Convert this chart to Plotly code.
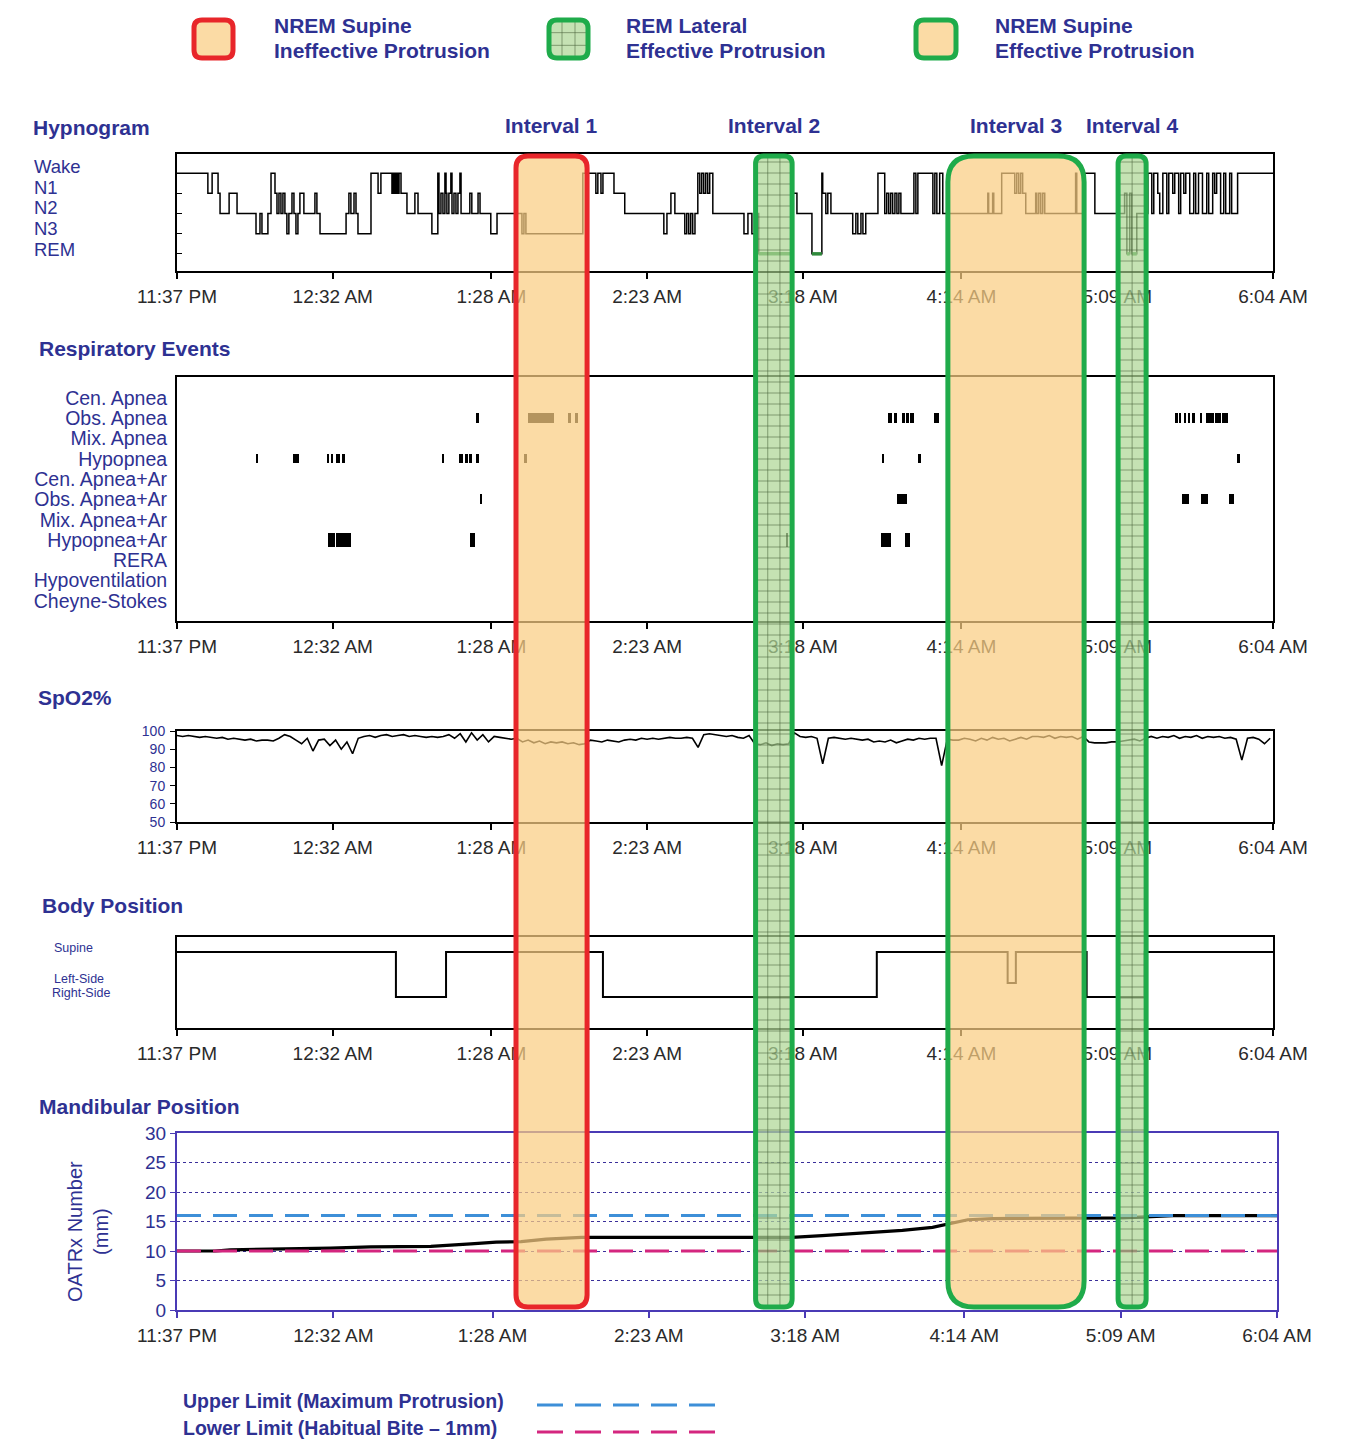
import numpy as np
import plotly.graph_objects as go

FIG_W, FIG_H = 1346, 1442

# ---------------- DATA ----------------
time_labels = ["11:37 PM", "12:32 AM", "1:28 AM", "2:23 AM", "3:18 AM", "4:14 AM", "5:09 AM", "6:04 AM"]

def label_to_minutes(lbl):
    hm, ap = lbl.split()
    h, m = map(int, hm.split(":"))
    h = h % 12 + (12 if ap == "PM" else 0)
    return (h * 60 + m - (23 * 60 + 37)) % (24 * 60)

tick_minutes = [label_to_minutes(l) for l in time_labels]
T_END = tick_minutes[-1]

# Hypnogram: stage-change times (minutes after 11:37 PM) and stages
hyp_t = [0.0, 10.9, 12.4, 14.5, 15.2, 18.4, 21.2, 27.9, 29.3, 30.0, 32.1, 33.2, 34.6, 35.3, 36.0, 36.7, 37.4, 38.1,
         38.8, 39.5, 40.6, 41.3, 42.0, 42.7, 43.4, 44.8, 48.7, 49.4, 50.5, 59.7, 60.7, 61.4, 62.5, 63.2, 63.9, 68.5,
         71.0, 72.0, 75.9, 76.2, 76.6, 77.0, 77.3, 77.7, 78.0, 78.4, 79.1, 81.2, 84.0, 85.1, 90.0, 92.1, 92.5, 93.2,
         93.9, 94.6, 95.0, 95.3, 96.0, 96.7, 97.1, 97.8, 98.5, 99.2, 99.9, 100.3, 103.4, 104.1, 106.3, 107.0, 110.8,
         113.0, 121.8, 122.5, 123.2, 143.3, 147.9, 148.6, 149.7, 150.4, 154.3, 158.1, 171.9, 173.0, 174.4, 175.8,
         179.3, 180.0, 180.7, 181.4, 182.1, 182.9, 183.9, 184.6, 185.3, 186.0, 186.7, 187.4, 188.1, 189.2, 200.2,
         201.6, 203.0, 204.7, 205.4, 217.1, 218.9, 224.2, 227.7, 228.0, 229.1, 229.8, 230.9, 238.6, 239.7, 240.4,
         241.5, 242.2, 243.2, 247.5, 249.9, 250.6, 251.3, 252.0, 252.7, 253.5, 254.2, 254.9, 255.6, 260.2, 260.9,
         261.6, 266.9, 267.6, 268.3, 269.3, 270.4, 286.3, 286.6, 288.0, 288.4, 291.2, 295.8, 296.5, 297.2, 297.9,
         298.6, 299.7, 303.2, 303.6, 304.3, 305.0, 305.7, 306.4, 317.3, 317.7, 320.2, 324.1, 334.6, 335.4, 336.4,
         337.1, 338.9, 342.8, 344.2, 344.9, 346.3, 347.0, 348.1, 349.5, 350.2, 351.6, 352.3, 353.7, 354.4, 355.5,
         356.2, 357.6, 359.0, 359.7, 360.7, 362.1, 363.6, 364.3, 365.7, 366.4, 367.1, 368.5, 369.6, 370.3, 371.7,
         372.4, 374.5]
hyp_s = ["W", "N1", "W", "N1", "N2", "N1", "N2", "N3", "N2", "N3", "N2", "W", "N1", "N2", "N1", "N2", "N1", "N2",
         "N3", "N2", "N1", "N2", "N3", "N2", "N1", "N2", "N1", "N2", "N3", "N2", "N1", "N2", "N1", "N2", "N3", "W",
         "N1", "W", "N1", "W", "N1", "W", "N1", "W", "N1", "W", "N1", "N2", "N1", "N2", "N3", "W", "N2", "N1",
         "N2", "W", "N1", "N2", "N1", "W", "N2", "N1", "N2", "N1", "W", "N2", "N1", "N2", "N1", "N2", "N3",
         "N2", "N3", "N2", "N3", "W", "N1", "W", "N1", "W", "N1", "N2", "N3", "N2", "N1", "N2",
         "N3", "N2", "N3", "N2", "N3", "N2", "W", "N1", "W", "N1", "W", "N1", "W", "N2", "N3",
         "N2", "N3", "N2", "R", "N1", "N2", "R", "W", "N1", "N2", "N1", "N2", "N3", "N2", "N3",
         "N2", "N3", "N2", "W", "N2", "N1", "N2", "N1", "N2", "N1", "N2", "N1", "N2", "W", "N2",
         "W", "N2", "W", "N2", "W", "N2", "N1", "N2", "N1", "N2", "W", "N1", "W", "N1", "W",
         "N1", "N2", "N1", "N2", "N1", "N2", "N1", "N2", "W", "N2", "W", "N2", "N1", "R", "N1",
         "R", "N2", "W", "N2", "W", "N1", "N2", "W", "N2", "W", "N1", "W", "N2", "W", "N1",
         "W", "N2", "W", "N2", "W", "N2", "W", "N2", "W", "N1", "W", "N2", "W", "N2", "W",
         "N2", "W"]

resp_rows = ["Cen. Apnea", "Obs. Apnea", "Mix. Apnea", "Hypopnea", "Cen. Apnea+Ar", "Obs. Apnea+Ar",
             "Mix. Apnea+Ar", "Hypopnea+Ar", "RERA", "Hypoventilation", "Cheyne-Stokes"]
ev_type = (["Obs. Apnea"] * 20 + ["Hypopnea"] * 15 + ["Obs. Apnea+Ar"] * 5 + ["Hypopnea+Ar"] * 6)
ev_start = [105.9, 123.9, 138.0, 140.5, 251.0, 253.5, 255.9, 257.3, 258.7, 267.6, 268.6, 352.6, 354.0, 355.8,
            357.2, 358.6, 361.3, 363.2, 366.4, 369.0,
            27.9, 40.9, 53.0, 54.4, 56.1, 58.2, 93.9, 99.5, 101.7, 103.4, 105.5, 122.8, 249.2, 261.6, 374.2,
            107.3, 254.2, 354.8, 361.5, 371.4,
            53.3, 56.1, 103.4, 215.3, 248.5, 257.0]
ev_dur = [0.6, 9.2, 1.0, 1.0, 1.4, 0.7, 1.0, 1.0, 1.4, 0.6, 0.6, 0.7, 0.6, 0.6,
          0.6, 0.7, 0.8, 2.8, 2.2, 2.0,
          0.7, 2.1, 0.8, 0.8, 1.4, 1.2, 0.5, 1.4, 1.0, 0.7, 1.0, 0.7, 0.5, 1.0, 1.0,
          0.5, 3.5, 2.5, 2.5, 1.8,
          2.5, 5.3, 1.8, 0.4, 3.5, 1.8]

# SpO2 sampled every 2 minutes
spo2 = [97.5, 97, 97.5, 97, 96.5, 97,
        96.5, 96, 96.5, 95.5, 96, 95.5, 95, 95.5, 94.5, 95,
        95, 94.5, 96, 98, 97,
        95, 93, 96, 89, 95,
        95.5, 92, 95, 90, 94, 87.5, 96, 97, 97.5, 96.5,
        97.5, 98, 97, 97.5, 98, 97, 97.5, 97, 96.5, 97,
        96.5, 97, 98, 96, 98.5,
        94, 99, 95, 98, 94, 97,
        96.5, 96, 95.5, 96,
        94, 95, 93.5, 94.5, 93, 94, 93.5, 94, 93, 93.5, 92.5, 93,
        95, 94.5, 94, 95, 94.5, 94, 95, 95.5,
        95, 96, 95.5, 96, 95.5, 96, 96.5, 96,
        96, 96.5, 96, 91,
        98, 98.5, 98, 97.5, 97, 97.5, 96.5, 96,
        97.5, 93, 92.5, 93.5, 92, 93, 92.5,
        93, 99, 97,
        96.5, 97, 96,
        82,
        96, 96.5, 96, 95.5, 96, 95.5, 95, 95.5, 94,
        94.5, 94, 95, 93.5, 94.5, 95.5, 95, 96, 95.5, 96,
        96, 81, 95.5, 95,
        95, 96, 95.5, 94.5, 96, 95, 96.5, 95.5, 96, 94.5, 95.5, 96.5, 95.5, 97,
        97, 96.5, 97.5, 96, 97, 96.5, 97, 95.5,
        97, 94,
        93.5, 93.5, 93.5, 94, 94, 94.5, 95, 95.5, 94.5, 96, 97,
        96, 97, 96.5, 97.5, 96, 97, 96.5, 97.5, 96, 97, 96.5, 97, 96,
        96.5, 95.5, 84, 96, 96.5, 95.5, 93, 96]
spo2_t = np.arange(len(spo2)) * 2.0

body_t = [0.0, 77.3, 95.0, 150.4, 247.1, 293.3, 296.2, 321.2, 341.7]
body_pos = ["Supine", "Right-Side", "Supine", "Right-Side", "Supine", "Left-Side", "Supine", "Right-Side", "Supine"]

mand_t = [0.0, 13.4, 18.7, 39.9, 54.0, 68.1, 89.3, 103.4, 112.3, 121.1, 129.9, 142.3, 184.6, 216.4, 227.0,
          241.1, 255.2, 265.8, 271.1, 278.2, 287.0, 318.7, 332.9, 350.5, 387.0]
mand_mm = [10.0, 10.0, 10.2, 10.3, 10.5, 10.7, 10.8, 11.2, 11.5, 11.6, 12.0, 12.3, 12.3, 12.3, 12.6,
           13.0, 13.5, 14.0, 14.6, 15.3, 15.5, 15.5, 15.6, 16.0, 16.0]
upper_limit = 16.0
lower_limit = 10.0

interval_names = ["Interval 1", "Interval 2", "Interval 3", "Interval 4"]
interval_start = [119.7, 204.3, 272.2, 332.3]
interval_end = [144.8, 217.2, 320.3, 342.2]
interval_kind = ["nrem_bad", "rem", "nrem_good", "rem"]

legend_line1 = ["NREM Supine", "REM Lateral", "NREM Supine"]
legend_line2 = ["Ineffective Protrusion", "Effective Protrusion", "Effective Protrusion"]
legend_kind = ["nrem_bad", "rem", "nrem_good"]

# ---------------- STYLE / LAYOUT ----------------
INDIGO = "#2e3192"
TICK_TXT = "#2a2a2a"
FONT = "Liberation Sans, Arial, sans-serif"
ORANGE_FILL = "rgba(250,205,130,0.72)"
GREEN_FILL = "rgba(175,215,150,0.72)"
RED = "#e8262a"
GREEN = "#1fab4a"
GRIDC = "rgba(70,95,55,0.55)"
MAND_C = "#4a3ab5"

kind_style = {
    "nrem_bad": dict(fill=ORANGE_FILL, border=RED, grid=False),
    "rem": dict(fill=GREEN_FILL, border=GREEN, grid=True),
    "nrem_good": dict(fill=ORANGE_FILL, border=GREEN, grid=False),
}
interval_radius_px = [12, 8, 26, 8]
interval_cols = [3, 3, 1, 2]

stage_level = {"W": 4, "N1": 3, "N2": 2, "N3": 1, "R": 0}
body_level = {"Supine": 7.6, "Left-Side": 4.5, "Right-Side": 3.1}

def fx(p):
    return p / FIG_W

def fy(p):
    return 1 - p / FIG_H

X_L, X_R = 177, 1273
panels = {  # pixel top, bottom
    "hyp": (154, 271), "resp": (377, 621), "spo2": (731, 822), "body": (937, 1028), "mand": (1133, 1310)}

fig = go.Figure()

# Hypnogram
hx = list(hyp_t) + [T_END]
hy = [stage_level[s] for s in hyp_s] + [stage_level[hyp_s[-1]]]
fig.add_trace(go.Scatter(x=hx, y=hy, mode="lines", line=dict(color="black", width=1.5, shape="hv"),
                         xaxis="x", yaxis="y", hoverinfo="skip"))
for i, s in enumerate(hyp_s):
    if s == "R":
        x1 = hyp_t[i + 1] if i + 1 < len(hyp_t) else T_END
        fig.add_trace(go.Scatter(x=[hyp_t[i], x1], y=[0, 0], mode="lines",
                                 line=dict(color="#2f8a3c", width=3.5), xaxis="x", yaxis="y", hoverinfo="skip"))

# Respiratory events
row_height = {"Obs. Apnea": 0.5, "Hypopnea": 0.45, "Obs. Apnea+Ar": 0.5, "Hypopnea+Ar": 0.7}
fig.add_trace(go.Bar(x=ev_dur, base=ev_start, y=ev_type, orientation="h",
                     width=[row_height.get(t, 0.5) for t in ev_type],
                     marker=dict(color="black", line=dict(width=0)), xaxis="x2", yaxis="y2", hoverinfo="skip"))

# SpO2
fig.add_trace(go.Scatter(x=spo2_t, y=spo2, mode="lines", line=dict(color="black", width=1.6),
                         xaxis="x3", yaxis="y3", hoverinfo="skip"))

# Body position
bx = list(body_t) + [T_END]
by = [body_level[p] for p in body_pos] + [body_level[body_pos[-1]]]
fig.add_trace(go.Scatter(x=bx, y=by, mode="lines", line=dict(color="black", width=2, shape="hv"),
                         xaxis="x4", yaxis="y4", hoverinfo="skip"))

# Mandibular position
fig.add_trace(go.Scatter(x=mand_t, y=mand_mm, mode="lines", line=dict(color="black", width=3.2),
                         xaxis="x5", yaxis="y5", hoverinfo="skip"))
fig.add_trace(go.Scatter(x=[0, T_END], y=[lower_limit, lower_limit], mode="lines",
                         line=dict(color="#d4267f", width=3, dash="24px,12px"),
                         xaxis="x5", yaxis="y5", hoverinfo="skip"))
fig.add_trace(go.Scatter(x=[0, T_END], y=[upper_limit, upper_limit], mode="lines",
                         line=dict(color="#3d8fd8", width=3, dash="24px,12px"),
                         xaxis="x5", yaxis="y5", hoverinfo="skip"))

def time_axis(anchor, right=X_R, color="black"):
    return dict(domain=[fx(X_L), fx(right)], range=[0, T_END], anchor=anchor, automargin=False,
                tickvals=tick_minutes, ticktext=time_labels, ticks="outside", ticklen=6,
                tickcolor=color, tickwidth=1.5,
                tickfont=dict(family=FONT, size=19, color=TICK_TXT), ticklabelstandoff=1,
                showline=True, mirror=True, linecolor=color, linewidth=2,
                showgrid=False, zeroline=False, fixedrange=True)

def ydom(key):
    t, b = panels[key]
    return [fy(b), fy(t)]

layout = dict(
    width=FIG_W, height=FIG_H, margin=dict(l=0, r=0, t=0, b=0, pad=0, autoexpand=False), autosize=False,
    paper_bgcolor="white", plot_bgcolor="white", showlegend=False, bargap=0,
    xaxis=time_axis("y"), xaxis2=time_axis("y2"), xaxis3=time_axis("y3"), xaxis4=time_axis("y4"),
    xaxis5=time_axis("y5", right=1277, color=MAND_C),
    yaxis=dict(domain=ydom("hyp"), anchor="x", range=[-0.85, 4.95], tickvals=[0, 1, 2, 3, 4],
               showticklabels=False, ticks="inside", ticklen=5, tickcolor="black", automargin=False,
               showline=True, mirror=True, linecolor="black", linewidth=2, showgrid=False, zeroline=False),
    yaxis2=dict(domain=ydom("resp"), anchor="x2", type="category", categoryorder="array",
                categoryarray=resp_rows, tickvals=resp_rows, ticktext=resp_rows, range=[10.99, -1.03],
                ticks="", tickfont=dict(family=FONT, size=19.5, color=INDIGO), ticklabelstandoff=4,
                automargin=False,
                showline=True, mirror=True, linecolor="black", linewidth=2, showgrid=False, zeroline=False),
    yaxis3=dict(domain=ydom("spo2"), anchor="x3", range=[50, 100], tickvals=[50, 60, 70, 80, 90, 100],
                ticks="outside", ticklen=5, tickcolor="black", automargin=False,
                tickfont=dict(family=FONT, size=14, color=INDIGO), ticklabelstandoff=2,
                showline=True, mirror=True, linecolor="black", linewidth=2, showgrid=False, zeroline=False),
    yaxis4=dict(domain=ydom("body"), anchor="x4", range=[0, 9.1], showticklabels=False, ticks="",
                automargin=False,
                showline=True, mirror=True, linecolor="black", linewidth=2, showgrid=False, zeroline=False),
    yaxis5=dict(domain=ydom("mand"), anchor="x5", range=[0, 30], tickvals=[0, 5, 10, 15, 20, 25, 30],
                ticks="outside", ticklen=5, tickcolor=MAND_C, automargin=False,
                tickfont=dict(family=FONT, size=19, color=INDIGO), ticklabelstandoff=0,
                showline=True, mirror=True, linecolor=MAND_C, linewidth=2,
                showgrid=True, gridcolor="#3a2f9a", gridwidth=1.2, griddash="dot", zeroline=False),
)
fig.update_layout(**layout)

# ---------------- annotations ----------------
ann = []

def text(x, y, s, size, color=INDIGO, bold=False, anchor="left", xref="paper", angle=None):
    d = dict(x=x, y=y, xref=xref, yref="paper", text=("<b>%s</b>" % s) if bold else s, showarrow=False,
             xanchor=anchor, yanchor="middle", font=dict(family=FONT, size=size, color=color))
    if angle is not None:
        d["textangle"] = angle
    ann.append(d)

for t, y in [("Hypnogram", 128), ("Respiratory Events", 348), ("SpO2%", 697), ("Body Position", 905),
             ("Mandibular Position", 1106)]:
    x0 = {"Hypnogram": 31, "Respiratory Events": 37, "SpO2%": 36, "Body Position": 40,
          "Mandibular Position": 37}[t]
    text(fx(x0), fy(y), t, 21, bold=True)

for name, s, e in zip(interval_names, interval_start, interval_end):
    text((s + e) / 2, fy(126), name, 21, bold=True, anchor="center", xref="x")

for lab, y in [("Wake", 167), ("N1", 187.5), ("N2", 208), ("N3", 228.5), ("REM", 249)]:
    text(fx(32), fy(y), lab, 18.5)

for lab, y, x0 in [("Supine", 948, 52), ("Left-Side", 979, 52), ("Right-Side", 993, 50)]:
    text(fx(x0), fy(y), lab, 12.5)

text(fx(88), fy(1232), "OATRx Number<br>(mm)", 20, anchor="center", angle=-90)

for i, (l1, l2) in enumerate(zip(legend_line1, legend_line2)):
    x0 = [272, 624, 993][i]
    text(fx(x0), fy(26), l1, 21, bold=True)
    text(fx(x0), fy(51), l2, 21, bold=True)

text(fx(181), fy(1401), "Upper Limit (Maximum Protrusion)", 19.5, bold=True)
text(fx(181), fy(1428), "Lower Limit (Habitual Bite \u2013 1mm)", 19.5, bold=True)

fig.update_layout(annotations=ann)

# ---------------- shapes (interval overlays + legend glyphs) ----------------
shapes = []

def rounded_path(x0, x1, yt, yb, rx, ry):
    return (f"M {x0 + rx},{yt} L {x1 - rx},{yt} Q {x1},{yt} {x1},{yt - ry} "
            f"L {x1},{yb + ry} Q {x1},{yb} {x1 - rx},{yb} L {x0 + rx},{yb} "
            f"Q {x0},{yb} {x0},{yb + ry} L {x0},{yt - ry} Q {x0},{yt} {x0 + rx},{yt} Z")

mpp = T_END / (X_R - X_L)  # minutes per pixel on the shared time scale
OV_TOP, OV_BOT = fy(156), fy(1307)

for s, e, kind, r, ncol in zip(interval_start, interval_end, interval_kind, interval_radius_px, interval_cols):
    st = kind_style[kind]
    rx, ry = r * mpp, r / FIG_H
    p = rounded_path(s, e, OV_TOP, OV_BOT, rx, ry)
    shapes.append(dict(type="path", path=p, xref="x", yref="paper", fillcolor=st["fill"],
                       line=dict(width=0), layer="above"))
    if st["grid"]:
        g = ""
        step = 11 / FIG_H
        y = OV_TOP - 6 / FIG_H
        while y > OV_BOT + 3 / FIG_H:
            g += f"M {s},{y} L {e},{y} "
            y -= step
        for k in range(1, ncol):
            xx = s + (e - s) * k / ncol
            g += f"M {xx},{OV_TOP} L {xx},{OV_BOT} "
        shapes.append(dict(type="path", path=g, xref="x", yref="paper",
                           line=dict(color=GRIDC, width=1), layer="above"))
    shapes.append(dict(type="path", path=p, xref="x", yref="paper", fillcolor="rgba(0,0,0,0)",
                       line=dict(color=st["border"], width=5), layer="above"))

# legend glyphs (top)
for i, kind in enumerate(legend_kind):
    st = kind_style[kind]
    x0p, x1p = [(194, 233), (549, 588), (916, 956)][i]
    a, b = fx(x0p), fx(x1p)
    yt, yb = fy(20), fy(58)
    rx, ry = 8 / FIG_W, 8 / FIG_H
    p = rounded_path(a, b, yt, yb, rx, ry)
    shapes.append(dict(type="path", path=p, xref="paper", yref="paper", fillcolor=st["fill"],
                       line=dict(width=0)))
    if st["grid"]:
        g = ""
        for k in (1, 2):
            xx = a + (b - a) * k / 3
            yy = yt + (yb - yt) * k / 3
            g += f"M {xx},{yt} L {xx},{yb} M {a},{yy} L {b},{yy} "
        shapes.append(dict(type="path", path=g, xref="paper", yref="paper", line=dict(color=GRIDC, width=1)))
    shapes.append(dict(type="path", path=p, xref="paper", yref="paper", fillcolor="rgba(0,0,0,0)",
                       line=dict(color=st["border"], width=5)))

# legend glyphs (bottom)
for y, c in [(1405, "#3d8fd8"), (1432, "#d4267f")]:
    shapes.append(dict(type="line", xref="paper", yref="paper", x0=fx(537), x1=fx(722), y0=fy(y), y1=fy(y),
                       line=dict(color=c, width=3, dash="26px,12px")))

fig.update_layout(shapes=shapes)

fig.write_html("out.html", config={"displayModeBar": False},
               post_script="document.body.style.margin='0px';")
